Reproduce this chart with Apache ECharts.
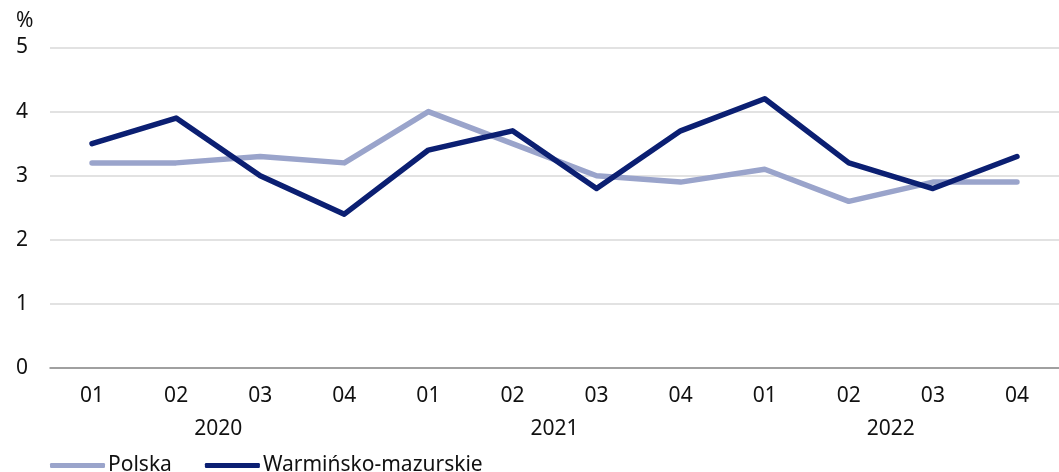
<!DOCTYPE html>
<html>
<head>
<meta charset="utf-8">
<script src="https://cdn.jsdelivr.net/npm/echarts@6/dist/echarts.min.js"></script>
<style>
html, body { margin: 0; padding: 0; background: #fff; }
#main { width: 1059px; height: 472px; }
</style>
</head>
<body>
<div id="main"></div>
<script>
var quarters = ['01', '02', '03', '04', '01', '02', '03', '04', '01', '02', '03', '04'];
var years = ['2020', '2021', '2022'];
var polska = [3.2, 3.2, 3.3, 3.2, 4.0, 3.5, 3.0, 2.9, 3.1, 2.6, 2.9, 2.9];
var warminsko = [3.5, 3.9, 3.0, 2.4, 3.4, 3.7, 2.8, 3.7, 4.2, 3.2, 2.8, 3.3];

var fontName = 'Noto Sans';
var chart = echarts.init(document.getElementById('main'));
var option = {
    animation: false,
    textStyle: { fontFamily: fontName },
    color: ['#9aa4cb', '#0b1f72'],
    title: {
        text: '%',
        left: 11,
        top: 6,
        textStyle: { fontFamily: fontName, fontSize: 21, fontWeight: 'normal', color: '#111' }
    },
    legend: {
        left: 50,
        top: 455,
        padding: 0,
        icon: 'roundRect',
        itemWidth: 55,
        itemHeight: 5,
        itemGap: 33,
        textStyle: { fontFamily: fontName, fontSize: 21, color: '#111', padding: [0, 0, 0, -2] },
        data: ['Polska', 'Warmińsko-mazurskie']
    },
    grid: {
        left: 50,
        right: -5,
        top: 47.5,
        bottom: 104
    },
    xAxis: [
        {
            type: 'category',
            data: quarters,
            axisLine: { lineStyle: { color: '#8a8a8a', width: 1.5 } },
            axisTick: { length: 6, lineStyle: { color: '#8a8a8a', width: 1.5 } },
            axisLabel: { margin: 18, fontSize: 21, color: '#111', fontFamily: fontName }
        },
        {
            type: 'category',
            data: years,
            position: 'bottom',
            offset: 33,
            axisLine: { show: false },
            axisTick: { show: false },
            axisLabel: { margin: 18, fontSize: 21, color: '#111', fontFamily: fontName }
        }
    ],
    yAxis: {
        type: 'value',
        min: 0,
        max: 5,
        interval: 1,
        axisLine: { show: false },
        axisTick: { show: false },
        axisLabel: { margin: 22, fontSize: 21, color: '#111', fontFamily: fontName },
        splitLine: { lineStyle: { color: '#d9d9d9', width: 1.5 } }
    },
    series: [
        {
            name: 'Polska',
            type: 'line',
            data: polska,
            symbol: 'none',
            lineStyle: { width: 5.5, cap: 'round', join: 'round' }
        },
        {
            name: 'Warmińsko-mazurskie',
            type: 'line',
            data: warminsko,
            symbol: 'none',
            lineStyle: { width: 5.5, cap: 'round', join: 'round' }
        }
    ]
};
chart.setOption(option);
</script>
</body>
</html>
